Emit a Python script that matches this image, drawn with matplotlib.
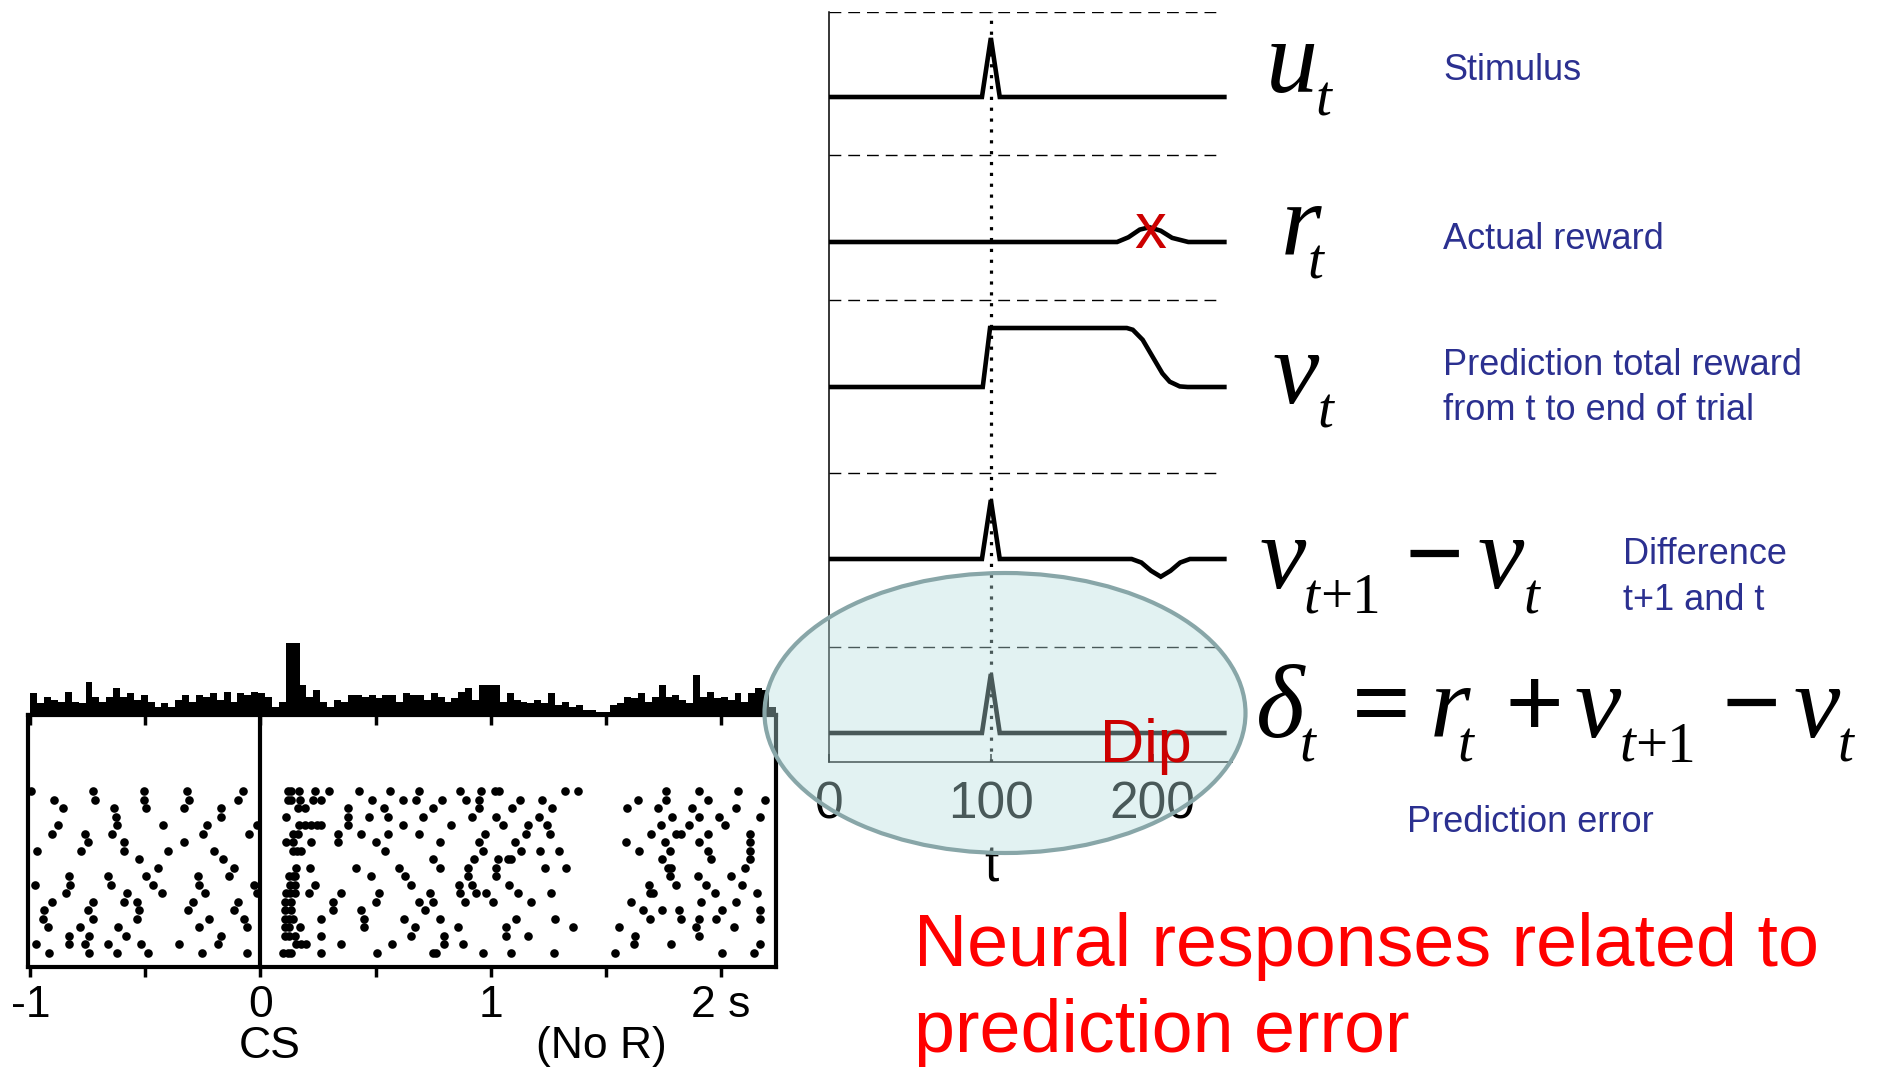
"""
TD-learning slide: dopamine raster (no reward) next to the model traces.
"""

import numpy as np
import matplotlib.pyplot as plt
from matplotlib.patches import Ellipse
from matplotlib.transforms import blended_transform_factory

plt.rcParams['font.family'] = ['Liberation Sans', 'DejaVu Sans']

W, H = 1879, 1068

# ---- raster / PSTH data (time in s, CS at 0) ----
hist_start = -1.0
bin_width = 0.03
hist_counts = [13, 7, 11, 9, 8, 14, 8, 7, 20, 11, 8, 11, 16, 11, 13, 9, 12, 8,
               5, 7, 5, 9, 12, 8, 12, 11, 13, 9, 14, 8, 13, 12, 14, 13, 11, 5,
               8, 43, 43, 18, 11, 15, 8, 5, 9, 8, 12, 12, 11, 12, 10, 12, 12, 8,
               13, 12, 12, 9, 13, 11, 8, 10, 14, 16, 9, 18, 18, 18, 8, 13, 9, 8,
               7, 9, 7, 13, 6, 8, 5, 6, 3, 3, 2, 2, 6, 7, 11, 10, 13, 8, 11, 18,
               11, 12, 9, 7, 24, 11, 14, 10, 11, 9, 13, 8, 13, 16, 15, 5]

trial_spikes = [
    [-0.997, -0.729, -0.504, -0.319, -0.074, 0.119, 0.133, 0.167, 0.239, 0.297, 0.430, 0.565, 0.688, 0.865, 0.959, 1.017, 1.036, 1.322, 1.380, 1.761, 1.906, 2.075],
    [-0.896, -0.717, -0.504, -0.309, -0.099, 0.119, 0.133, 0.173, 0.228, 0.264, 0.484, 0.619, 0.674, 0.790, 0.894, 0.949, 1.126, 1.225, 1.641, 1.761, 1.945, 2.191],
    [-0.860, -0.638, -0.497, -0.333, -0.171, 0.162, 0.192, 0.380, 0.535, 0.749, 0.949, 1.093, 1.267, 1.594, 1.727, 1.877, 2.068],
    [-0.628, -0.171, 0.112, 0.380, 0.471, 0.554, 0.706, 0.919, 1.025, 1.209, 1.790, 1.906, 1.993, 2.170],
    [-0.881, -0.625, -0.424, -0.232, -0.016, 0.167, 0.192, 0.220, 0.245, 0.264, 0.380, 0.619, 0.829, 1.054, 1.162, 1.246, 1.742, 1.862, 2.017],
    [-0.907, -0.761, -0.645, -0.251, -0.051, 0.141, 0.162, 0.336, 0.438, 0.554, 0.688, 0.974, 1.152, 1.256, 1.698, 1.807, 1.829, 1.945, 2.126],
    [-0.751, -0.591, -0.333, 0.112, 0.141, 0.220, 0.336, 0.500, 0.778, 0.949, 1.104, 1.587, 1.756, 1.906, 2.126],
    [-0.972, -0.780, -0.591, -0.403, -0.203, 0.141, 0.158, 0.177, 0.539, 0.967, 1.133, 1.213, 1.297, 1.645, 1.778, 1.945, 2.126],
    [-0.529, -0.161, 0.749, 0.930, 1.032, 1.075, 1.090, 1.746, 1.959, 2.126],
    [-0.446, -0.117, 0.155, 0.216, 0.416, 0.604, 0.778, 0.901, 1.022, 1.235, 1.329, 1.771, 1.785, 2.104],
    [-0.833, -0.661, -0.497, -0.272, -0.135, 0.123, 0.141, 0.152, 0.481, 0.630, 0.901, 1.025, 1.778, 1.901, 2.046],
    [-0.978, -0.826, -0.649, -0.465, -0.265, -0.026, 0.129, 0.148, 0.235, 0.652, 0.861, 0.919, 1.080, 1.688, 1.807, 1.935, 2.094],
    [-0.845, -0.580, -0.427, -0.243, -0.016, 0.112, 0.129, 0.148, 0.210, 0.348, 0.517, 0.735, 0.865, 0.938, 0.981, 1.119, 1.264, 1.691, 1.706, 1.974, 2.158],
    [-0.906, -0.729, -0.591, -0.538, -0.294, -0.099, 0.105, 0.133, 0.315, 0.500, 0.688, 0.749, 0.887, 1.010, 1.174, 1.609, 1.912, 2.068],
    [-0.939, -0.751, -0.529, -0.316, -0.113, 0.105, 0.133, 0.315, 0.438, 0.713, 1.662, 1.746, 1.819, 2.007, 2.172],
    [-0.946, -0.729, -0.538, -0.225, -0.070, 0.105, 0.123, 0.141, 0.264, 0.452, 0.622, 0.778, 1.112, 1.278, 1.691, 1.829, 1.906, 1.978, 2.172],
    [-0.925, -0.783, -0.620, -0.268, -0.058, 0.105, 0.126, 0.170, 0.452, 0.670, 0.858, 1.068, 1.358, 1.558, 1.891, 2.058],
    [-0.833, -0.743, -0.584, -0.171, 0.105, 0.123, 0.148, 0.261, 0.655, 0.796, 1.068, 1.162, 1.626, 1.906],
    [-0.975, -0.833, -0.761, -0.664, -0.519, -0.355, -0.186, 0.155, 0.177, 0.199, 0.351, 0.571, 0.796, 0.880, 1.623, 1.785, 2.170],
    [-0.917, -0.743, -0.623, -0.490, -0.254, -0.060, 0.097, 0.119, 0.133, 0.261, 0.507, 0.749, 0.764, 0.967, 1.090, 1.274, 1.539, 2.007, 2.145],
]
raster_ticks = [-1, -0.5, 0, 0.5, 1, 1.5, 2]
raster_ticklabels = ['-1', '', '0', '', '1', '', '2 s']

# ---- model traces (time steps, normalised amplitude) ----
t_u = [0, 94.5, 100, 105.5, 245.7]
u_vals = [0, 0, 1, 0, 0]
t_r = [0, 178, 185, 192, 198, 205, 212, 222, 245.7]
r_vals = [0, 0, 0.08, 0.21, 0.25, 0.19, 0.07, 0, 0]
t_v = [0, 95, 99.5, 184, 187.7, 193.8, 200, 206, 210.5, 216.7, 221.6, 245.7]
v_vals = [0, 0, 1, 1, 0.97, 0.8, 0.51, 0.23, 0.09, 0.01, 0, 0]
t_dv = [0, 94.5, 100, 105.5, 187, 193, 199, 205, 211, 217, 223, 245.7]
dv_vals = [0, 0, 1, 0, 0, -0.06, -0.2, -0.3, -0.2, -0.06, 0, 0]
t_delta = [0, 94.5, 100, 105.5, 245.7]
delta_vals = [0, 0, 1, 0, 0]
model_ticks = [0, 100, 200]


def px_box(x0, y0, x1, y1):
    return [x0 / W, 1 - y1 / H, (x1 - x0) / W, (y1 - y0) / H]


fig = plt.figure(figsize=(W / 100, H / 100), dpi=100)
narrow = ['Liberation Sans Narrow', 'Liberation Sans']

# ---------------- left: PSTH + raster ----------------
ax_h = fig.add_axes(px_box(28, 640, 776, 715))
ax_r = fig.add_axes(px_box(28, 715, 776, 967))
xlim_r = (-1.01, 2.24)

edges = hist_start + bin_width * np.arange(len(hist_counts))
ax_h.bar(edges, hist_counts, width=bin_width, align='edge', color='k', linewidth=0)
ax_h.set_xlim(xlim_r)
ax_h.set_ylim(0, 45)
for s in ['left', 'right', 'top']:
    ax_h.spines[s].set_visible(False)
ax_h.spines['bottom'].set_linewidth(3)
ax_h.set_yticks([])
ax_h.set_xticks(raster_ticks)
ax_h.tick_params(axis='x', direction='out', length=7, width=2.5, labelbottom=False)
ax_h.patch.set_alpha(0)

for i, spikes in enumerate(trial_spikes):
    ax_r.plot(spikes, [i] * len(spikes), 'o', color='k', ms=6.2, mew=0)
ax_r.axvline(0, color='k', lw=3)
ax_r.set_xlim(xlim_r)
ax_r.set_ylim(20.65, -9.0)
ax_r.spines['top'].set_visible(False)
for s in ['left', 'right', 'bottom']:
    ax_r.spines[s].set_linewidth(3)
ax_r.set_yticks([])
ax_r.set_xticks(raster_ticks, labels=raster_ticklabels)
ax_r.tick_params(axis='x', direction='out', length=7, width=2.5, pad=6,
                 labelsize=32)
for lab in ax_r.get_xticklabels():
    lab.set_family(narrow)
ax_r.patch.set_alpha(0)

tr = blended_transform_factory(ax_r.transData, fig.transFigure)
ax_r.text(0.04, 1 - 1058 / H, 'CS', transform=tr, ha='center', va='baseline',
          fontsize=32, family=narrow)
ax_r.text(1.48, 1 - 1058 / H, '(No R)', transform=tr, ha='center', va='baseline',
          fontsize=32, family=narrow)

# ---------------- right: TD model traces ----------------
ax = fig.add_axes(px_box(829, 12, 1232, 762))
ax.set_xlim(0, 249)
ax.set_ylim(0, 750)
amp = 59  # px for unit amplitude
traces = [(t_u, u_vals, 665), (t_r, r_vals, 520), (t_v, v_vals, 375),
          (t_dv, dv_vals, 203), (t_delta, delta_vals, 29)]
for tt, vals, base in traces:
    ax.plot(tt, base + amp * np.array(vals), color='k', lw=3.3,
            solid_joinstyle='miter', solid_capstyle='butt')
for yd in [750, 607, 462, 289, 115]:
    ax.hlines(yd, 0, 242.6, color='k', lw=1, linestyles=(0, (8.5, 5)))
ax.vlines(100, 0, 750, color='k', lw=2.3, linestyles=(0, (1, 2.4)))
ax.text(198.5, 514, 'x', color='#CC0000', fontsize=46, ha='center', va='baseline')

ax.spines['top'].set_visible(False)
ax.spines['right'].set_visible(False)
ax.spines['left'].set_linewidth(1.1)
ax.spines['bottom'].set_linewidth(1.1)
ax.set_yticks([])
ax.set_xticks(model_ticks)
ax.tick_params(axis='x', direction='in', length=6, width=1.1, labelsize=37, pad=13)
ax.patch.set_alpha(0)
fig.text(991 / W, 1 - 881 / H, 't', fontsize=37, ha='center', va='baseline', zorder=1)

# math labels, placed piece by piece: (text, left x, baseline y, kind)
MAIN, SUB = 75, 41
math_pieces = [
    ('u', 1266, 92, 'it'), ('t', 1315, 115, 'sub'),
    ('r', 1281, 255, 'it'), ('t', 1308, 278, 'sub'),
    ('v', 1273, 403, 'it'), ('t', 1318, 428, 'sub'),
    ('v', 1260, 588, 'it'), ('t', 1304, 613, 'sub'), ('+1', 1320, 613, 'subrm'),
    ('\u2212', 1405, 588, 'rm'), ('v', 1478, 588, 'it'), ('t', 1523, 613, 'sub'),
    ('\u03b4', 1256, 737, 'it'), ('t', 1300, 762, 'sub'),
    ('=', 1352, 737, 'rm'), ('r', 1430, 737, 'it'), ('t', 1458, 762, 'sub'),
    ('+', 1504, 737, 'rm'), ('v', 1575, 737, 'it'), ('t', 1619, 762, 'sub'),
    ('+1', 1635, 762, 'subrm'), ('\u2212', 1722, 737, 'rm'),
    ('v', 1794, 737, 'it'), ('t', 1838, 762, 'sub'),
]
for txt, x, y, kind in math_pieces:
    size = MAIN if kind in ('it', 'rm') else SUB
    style = 'italic' if kind in ('it', 'sub') else 'normal'
    weight = 'bold' if kind == 'rm' else 'normal'
    fig.text(x / W, 1 - y / H, txt, fontsize=size, fontstyle=style,
             fontweight=weight, family=['Liberation Serif', 'DejaVu Serif'],
             va='baseline')

# descriptions
blue = '#2B3090'
desc = [('Stimulus', 1443, 80), ('Actual reward', 1443, 249),
        ('Prediction total reward', 1443, 375), ('from t to end of trial', 1443, 420),
        ('Difference', 1623, 564), ('t+1 and t', 1623, 610),
        ('Prediction error', 1407, 832)]
for txt, x, y in desc:
    fig.text(x / W, 1 - y / H, txt, color=blue, fontsize=26, va='baseline')

fig.text(914 / W, 1 - 966 / H, 'Neural responses related to', color='#FF0000',
         fontsize=53, va='baseline')
fig.text(914 / W, 1 - 1052 / H, 'prediction error', color='#FF0000',
         fontsize=53, va='baseline')

# highlight ellipse over the prediction error trace
ell = Ellipse((1005 / W, 1 - 713 / H), 481 / W, 280 / H, transform=fig.transFigure,
              facecolor=(183 / 255, 223 / 255, 223 / 255, 0.4),
              edgecolor='#88A6A8', lw=3, zorder=4)
fig.patches.append(ell)
fig.text(1100 / W, 1 - 762 / H, 'Dip', color='#CC0000', fontsize=44,
         va='baseline', zorder=5)

plt.savefig('out.png', dpi=100)
